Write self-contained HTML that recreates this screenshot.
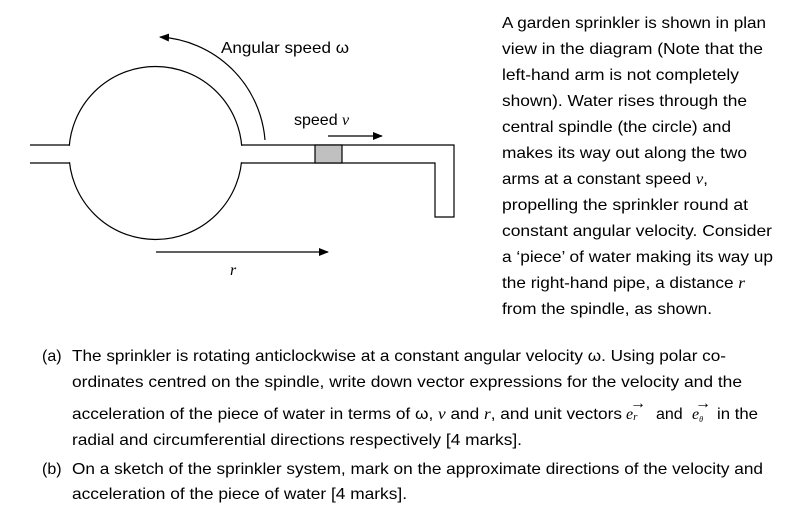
<!DOCTYPE html>
<html><head><meta charset="utf-8"><style>
html,body{margin:0;padding:0;background:#fff;}
svg{display:block;}
text{font-family:"Liberation Sans",sans-serif;font-size:16px;fill:#000;}
.s{font-family:"Liberation Serif",serif;font-style:italic;}
</style></head><body>
<svg width="792" height="512" viewBox="0 0 792 512" xmlns="http://www.w3.org/2000/svg">
<defs><marker id="ah" markerWidth="10" markerHeight="8" refX="9" refY="4" orient="auto" markerUnits="userSpaceOnUse"><path d="M0,0 L10,4 L0,8 z" fill="#000"/></marker></defs>
<g fill="none" stroke="#000" stroke-width="1.2">
<circle cx="155.5" cy="153" r="86.5"/>
</g>
<rect x="55" y="145.8" width="200" height="16.4" fill="#fff"/>
<g fill="none" stroke="#000" stroke-width="1.2">
<path d="M30,145 H69.5 M30,163 H69.5"/>
<path d="M241.5,145 H454 V217 H435 V163 H241.5"/>
<rect x="315" y="145" width="27" height="18" fill="#c0c0c0"/>
<path d="M265,140 A112,112 0 0 0 160,37" marker-end="url(#ah)"/>
<path d="M328,136 H382" marker-end="url(#ah)"/>
<path d="M156,252 H328" marker-end="url(#ah)"/>
</g>
<text x="221" y="53" textLength="128" lengthAdjust="spacingAndGlyphs">Angular speed ω</text>
<text x="294" y="125">speed <tspan class="s">v</tspan></text>
<text x="230" y="275" class="s">r</text>

<g>
<text x="502" y="28" textLength="264" lengthAdjust="spacingAndGlyphs">A garden sprinkler is shown in plan</text>
<text x="502" y="54" textLength="261" lengthAdjust="spacingAndGlyphs">view in the diagram (Note that the</text>
<text x="502" y="80" textLength="237" lengthAdjust="spacingAndGlyphs">left-hand arm is not completely</text>
<text x="502" y="106" textLength="245" lengthAdjust="spacingAndGlyphs">shown). Water rises through the</text>
<text x="502" y="132" textLength="229" lengthAdjust="spacingAndGlyphs">central spindle (the circle) and</text>
<text x="502" y="158" textLength="245" lengthAdjust="spacingAndGlyphs">makes its way out along the two</text>
<text x="502" y="184" textLength="206" lengthAdjust="spacingAndGlyphs">arms at a constant speed <tspan class="s">v</tspan>,</text>
<text x="502" y="210" textLength="246" lengthAdjust="spacingAndGlyphs">propelling the sprinkler round at</text>
<text x="502" y="236" textLength="270" lengthAdjust="spacingAndGlyphs">constant angular velocity.  Consider</text>
<text x="502" y="262" textLength="271" lengthAdjust="spacingAndGlyphs">a ‘piece’ of water making its way up</text>
<text x="502" y="288" textLength="243" lengthAdjust="spacingAndGlyphs">the right-hand pipe, a distance <tspan class="s">r</tspan></text>
<text x="502" y="314" textLength="210" lengthAdjust="spacingAndGlyphs">from the spindle, as shown.</text>
</g>

<text x="42" y="361">(a)</text>
<text x="72" y="361" textLength="654" lengthAdjust="spacingAndGlyphs">The sprinkler is rotating anticlockwise at a constant angular velocity ω. Using polar co-</text>
<text x="72" y="387" textLength="670" lengthAdjust="spacingAndGlyphs">ordinates centred on the spindle, write down vector expressions for the velocity and the</text>
<text x="72" y="419" textLength="550" lengthAdjust="spacingAndGlyphs">acceleration of the piece of water in terms of ω, <tspan class="s">v</tspan> and <tspan class="s">r</tspan>, and unit vectors</text>
<text x="626" y="419" class="s">e<tspan font-size="11" dy="1">r</tspan></text>
<text x="630" y="408" font-size="9">→</text>
<text x="656" y="419">and</text>
<text x="692" y="419" class="s">e<tspan font-size="8" dy="3">θ</tspan></text>
<text x="695" y="408" font-size="9">→</text>
<text x="717" y="419" textLength="41" lengthAdjust="spacingAndGlyphs">in the</text>
<text x="72" y="445" textLength="450" lengthAdjust="spacingAndGlyphs">radial and circumferential directions respectively [4 marks].</text>
<text x="42" y="474">(b)</text>
<text x="72" y="474" textLength="691" lengthAdjust="spacingAndGlyphs">On a sketch of the sprinkler system, mark on the approximate directions of the velocity and</text>
<text x="72" y="499" textLength="335" lengthAdjust="spacingAndGlyphs">acceleration of the piece of water [4 marks].</text>
</svg>
</body></html>
